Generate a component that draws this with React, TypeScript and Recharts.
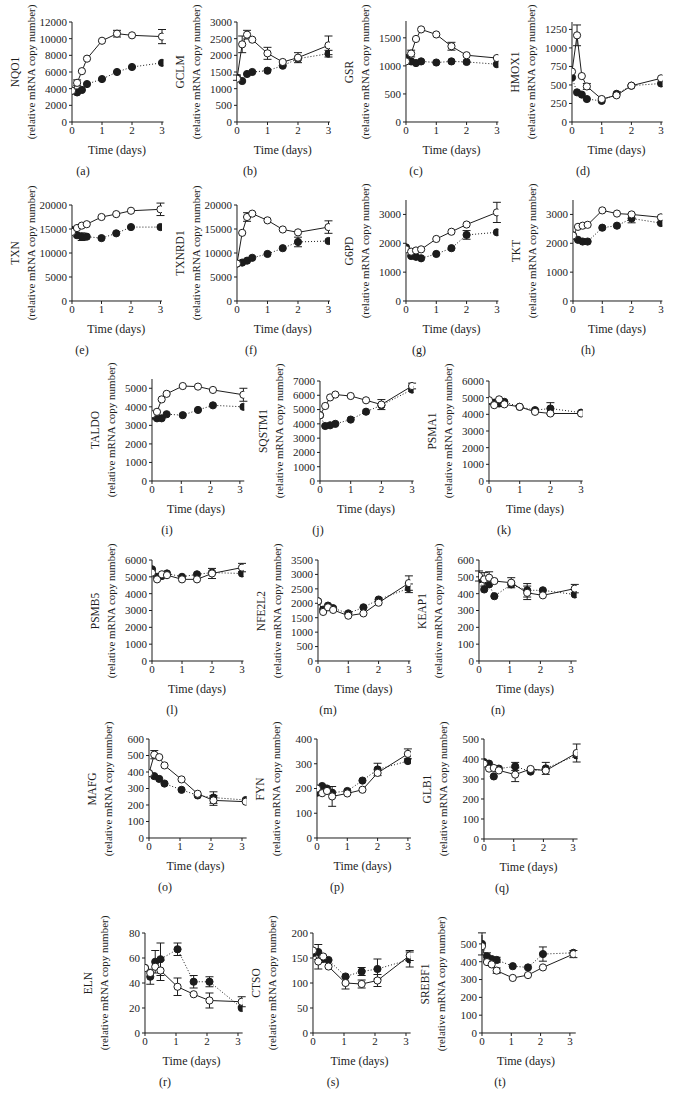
import React from "react";
import { LineChart, Line, XAxis, YAxis, ErrorBar } from "recharts";

// ── Sampling times (days) ───────────────────────────────────────────────────
const TIME = [0, 0.17, 0.33, 0.5, 1, 1.5, 2, 3];
const TIME_LATE = [0, 0.17, 0.33, 0.5, 1.05, 1.57, 2.08, 3.12];
const X_TICKS = [0, 1, 2, 3];

// ── Values: open = solid line, filled = dotted line ────
const NQO1_OPEN = [3750, 4700, 6100, 7600, 9750, 10600, 10400, 10250];
const NQO1_FILLED = [3750, 3550, 3850, 4550, 5150, 6000, 6600, 7100];
const NQO1_OPEN_ERR = [0, 350, 0, 0, 0, 400, 0, 850];
const NQO1_FILLED_ERR = [0, 0, 0, 0, 0, 0, 0, 0];

const GCLM_OPEN = [1300, 2330, 2620, 2470, 2060, 1800, 1930, 2300];
const GCLM_FILLED = [1330, 1230, 1440, 1500, 1540, 1690, 1900, 2050];
const GCLM_OPEN_ERR = [0, 250, 130, 0, 180, 0, 150, 280];
const GCLM_FILLED_ERR = [80, 0, 0, 0, 0, 0, 0, 100];

const GSR_OPEN = [1080, 1220, 1480, 1650, 1560, 1350, 1190, 1140];
const GSR_FILLED = [1140, 1080, 1050, 1080, 1060, 1080, 1070, 1030];
const GSR_OPEN_ERR = [0, 60, 0, 0, 0, 70, 0, 0];
const GSR_FILLED_ERR = [0, 0, 0, 0, 0, 0, 0, 0];

const HMOX1_OPEN = [680, 1170, 620, 480, 310, 360, 490, 590];
const HMOX1_FILLED = [600, 400, 370, 310, 285, 380, 490, 520];
const HMOX1_OPEN_ERR = [0, 140, 0, 40, 0, 0, 0, 0];
const HMOX1_FILLED_ERR = [0, 0, 0, 0, 0, 0, 0, 0];

const TXN_OPEN = [14400, 15200, 15700, 16000, 17500, 18100, 18800, 19100];
const TXN_FILLED = [14800, 13700, 13400, 13400, 13100, 14100, 15400, 15400];
const TXN_OPEN_ERR = [0, 0, 0, 0, 0, 0, 0, 1300];
const TXN_FILLED_ERR = [0, 0, 800, 0, 0, 0, 0, 0];

const TXNRD1_OPEN = [7800, 14200, 17500, 18200, 16800, 14900, 14300, 15400];
const TXNRD1_FILLED = [7800, 8000, 8400, 9000, 9800, 11000, 12300, 12500];
const TXNRD1_OPEN_ERR = [0, 0, 900, 0, 0, 0, 0, 1300];
const TXNRD1_FILLED_ERR = [0, 0, 0, 0, 0, 0, 1000, 0];

const G6PD_OPEN = [1790, 1710, 1750, 1790, 2150, 2400, 2650, 3070];
const G6PD_FILLED = [1860, 1560, 1530, 1480, 1630, 1830, 2290, 2380];
const G6PD_OPEN_ERR = [0, 0, 0, 0, 0, 0, 0, 350];
const G6PD_FILLED_ERR = [0, 0, 0, 0, 0, 0, 150, 0];

const TKT_OPEN = [2270, 2570, 2610, 2640, 3140, 3030, 3000, 2900];
const TKT_FILLED = [2270, 2120, 2060, 2060, 2540, 2610, 2860, 2700];
const TKT_OPEN_ERR = [0, 0, 0, 0, 0, 0, 0, 0];
const TKT_FILLED_ERR = [0, 0, 0, 0, 0, 0, 150, 0];

const TALDO_OPEN = [3600, 3730, 4400, 4700, 5120, 5090, 4910, 4650];
const TALDO_FILLED = [3520, 3380, 3380, 3600, 3550, 3830, 4080, 4000];
const TALDO_OPEN_ERR = [0, 0, 0, 0, 0, 0, 0, 350];
const TALDO_FILLED_ERR = [0, 0, 0, 0, 0, 0, 0, 0];

const SQSTM1_OPEN = [4600, 5250, 5850, 6050, 5950, 5650, 5350, 6650];
const SQSTM1_FILLED = [4600, 3850, 3900, 4000, 4300, 4850, 5300, 6400];
const SQSTM1_OPEN_ERR = [0, 0, 0, 0, 0, 0, 350, 200];
const SQSTM1_FILLED_ERR = [0, 0, 0, 0, 0, 0, 0, 0];

const PSMA1_OPEN = [4850, 4550, 4900, 4600, 4450, 4150, 4050, 4050];
const PSMA1_FILLED = [4800, 4700, 4650, 4750, 4450, 4250, 4350, 4100];
const PSMA1_OPEN_ERR = [0, 0, 0, 0, 0, 0, 0, 0];
const PSMA1_FILLED_ERR = [0, 0, 0, 0, 0, 0, 350, 0];

const PSMB5_OPEN = [5250, 4850, 5150, 5100, 4850, 4850, 5200, 5550];
const PSMB5_FILLED = [5450, 5000, 5050, 5200, 5000, 5150, 5250, 5200];
const PSMB5_OPEN_ERR = [0, 0, 0, 0, 0, 0, 300, 250];
const PSMB5_FILLED_ERR = [0, 0, 0, 0, 0, 0, 0, 0];

const NFE2L2_OPEN = [2070, 1700, 1860, 1770, 1570, 1650, 2020, 2700];
const NFE2L2_FILLED = [2070, 1780, 1920, 1830, 1650, 1860, 2130, 2520];
const NFE2L2_OPEN_ERR = [0, 0, 0, 0, 0, 0, 0, 250];
const NFE2L2_FILLED_ERR = [0, 0, 0, 0, 0, 0, 0, 150];

const KEAP1_OPEN = [505, 485, 495, 475, 465, 405, 390, 430];
const KEAP1_FILLED = [485, 425, 455, 385, 455, 420, 420, 395];
const KEAP1_OPEN_ERR = [30, 40, 35, 0, 30, 40, 0, 25];
const KEAP1_FILLED_ERR = [0, 0, 0, 0, 0, 40, 0, 0];

const MAFG_OPEN = [393, 505, 490, 440, 355, 268, 228, 220];
const MAFG_FILLED = [393, 375, 358, 330, 292, 258, 245, 230];
const MAFG_OPEN_ERR = [0, 25, 0, 0, 0, 0, 30, 0];
const MAFG_FILLED_ERR = [0, 0, 0, 0, 0, 0, 35, 0];

const FYN_OPEN = [200, 181, 190, 168, 180, 195, 263, 340];
const FYN_FILLED = [183, 210, 200, 183, 190, 232, 277, 311];
const FYN_OPEN_ERR = [0, 0, 0, 40, 0, 0, 0, 20];
const FYN_FILLED_ERR = [0, 0, 0, 0, 0, 0, 25, 0];

const GLB1_OPEN = [377, 352, 355, 343, 322, 350, 342, 430];
const GLB1_FILLED = [385, 377, 313, 352, 363, 337, 353, 418];
const GLB1_OPEN_ERR = [0, 0, 0, 0, 35, 0, 0, 45];
const GLB1_FILLED_ERR = [0, 0, 0, 0, 20, 0, 30, 0];

const ELN_OPEN = [52, 48, 53, 50, 37, 31, 26, 25];
const ELN_FILLED = [52, 45, 57, 59, 67, 41, 41, 20];
const ELN_OPEN_ERR = [0, 0, 0, 8, 7, 0, 6, 4];
const ELN_FILLED_ERR = [0, 6, 9, 13, 5, 5, 4, 0];

const CTSO_OPEN = [165, 143, 153, 133, 100, 98, 105, 155];
const CTSO_FILLED = [160, 162, 148, 146, 113, 123, 128, 147];
const CTSO_OPEN_ERR = [0, 15, 0, 0, 12, 8, 12, 10];
const CTSO_FILLED_ERR = [0, 15, 0, 0, 0, 8, 20, 15];

const SREBF1_OPEN = [487, 398, 385, 350, 309, 325, 368, 443];
const SREBF1_FILLED = [500, 430, 415, 410, 375, 368, 443, 450];
const SREBF1_OPEN_ERR = [0, 0, 0, 15, 0, 0, 0, 20];
const SREBF1_FILLED_ERR = [62, 20, 0, 15, 0, 0, 40, 0];

// ── Y tick sets ─────────────────────────────────────────────────────────────
const TICKS_12000 = [0, 2000, 4000, 6000, 8000, 10000, 12000];
const TICKS_3000_500 = [0, 500, 1000, 1500, 2000, 2500, 3000];
const TICKS_1500 = [0, 500, 1000, 1500];
const TICKS_1250 = [0, 250, 500, 750, 1000, 1250];
const TICKS_20000 = [0, 5000, 10000, 15000, 20000];
const TICKS_3000 = [0, 1000, 2000, 3000];
const TICKS_5000 = [0, 1000, 2000, 3000, 4000, 5000];
const TICKS_7000 = [0, 1000, 2000, 3000, 4000, 5000, 6000, 7000];
const TICKS_6000 = [0, 1000, 2000, 3000, 4000, 5000, 6000];
const TICKS_3500 = [0, 500, 1000, 1500, 2000, 2500, 3000, 3500];
const TICKS_600 = [0, 100, 200, 300, 400, 500, 600];
const TICKS_400 = [0, 100, 200, 300, 400];
const TICKS_500 = [0, 100, 200, 300, 400, 500];
const TICKS_80 = [0, 20, 40, 60, 80];
const TICKS_200 = [0, 50, 100, 150, 200];

// ── Panel table (layout in page pixels) ─────────────────────────────────────
const PANELS = [
  { id: "a", gene: "NQO1", time: TIME, open: NQO1_OPEN, filled: NQO1_FILLED, oErr: NQO1_OPEN_ERR, fErr: NQO1_FILLED_ERR, yMax: 12000, yTicks: TICKS_12000, ax: 72, top: 22, bottom: 122, unit: 30, xMax: 3.05, ldx: 11 },
  { id: "b", gene: "GCLM", time: TIME, open: GCLM_OPEN, filled: GCLM_FILLED, oErr: GCLM_OPEN_ERR, fErr: GCLM_FILLED_ERR, yMax: 3000, yTicks: TICKS_3000_500, ax: 237, top: 22, bottom: 122, unit: 30.5, xMax: 3.05, ldx: 13 },
  { id: "c", gene: "GSR", time: TIME, open: GSR_OPEN, filled: GSR_FILLED, oErr: GSR_OPEN_ERR, fErr: GSR_FILLED_ERR, yMax: 1800, yTicks: TICKS_1500, ax: 406, top: 21, bottom: 122, unit: 30.3, xMax: 3.05, ldx: 10 },
  { id: "d", gene: "HMOX1", time: TIME, open: HMOX1_OPEN, filled: HMOX1_FILLED, oErr: HMOX1_OPEN_ERR, fErr: HMOX1_FILLED_ERR, yMax: 1350, yTicks: TICKS_1250, ax: 572, top: 22, bottom: 122, unit: 29.7, xMax: 3.05, ldx: 11 },

  { id: "e", gene: "TXN", time: TIME, open: TXN_OPEN, filled: TXN_FILLED, oErr: TXN_OPEN_ERR, fErr: TXN_FILLED_ERR, yMax: 20000, yTicks: TICKS_20000, ax: 72, top: 205, bottom: 301, unit: 29.5, xMax: 3.05, ldx: 10 },
  { id: "f", gene: "TXNRD1", time: TIME, open: TXNRD1_OPEN, filled: TXNRD1_FILLED, oErr: TXNRD1_OPEN_ERR, fErr: TXNRD1_FILLED_ERR, yMax: 20000, yTicks: TICKS_20000, ax: 237, top: 205, bottom: 301, unit: 30.5, xMax: 3.05, ldx: 14 },
  { id: "g", gene: "G6PD", time: TIME, open: G6PD_OPEN, filled: G6PD_FILLED, oErr: G6PD_OPEN_ERR, fErr: G6PD_FILLED_ERR, yMax: 3500, yTicks: TICKS_3000, ax: 406, top: 200, bottom: 301, unit: 30.3, xMax: 3.05, ldx: 13 },
  { id: "h", gene: "TKT", time: TIME, open: TKT_OPEN, filled: TKT_FILLED, oErr: TKT_OPEN_ERR, fErr: TKT_FILLED_ERR, yMax: 3500, yTicks: TICKS_3000, ax: 573, top: 200, bottom: 301, unit: 29.3, xMax: 3.05, ldx: 15 },

  { id: "i", gene: "TALDO", time: TIME_LATE, open: TALDO_OPEN, filled: TALDO_FILLED, oErr: TALDO_OPEN_ERR, fErr: TALDO_FILLED_ERR, yMax: 5500, yTicks: TICKS_5000, ax: 152, top: 379, bottom: 481, unit: 29.3, xMax: 3.15, ldx: 15 },
  { id: "j", gene: "SQSTM1", time: TIME, open: SQSTM1_OPEN, filled: SQSTM1_FILLED, oErr: SQSTM1_OPEN_ERR, fErr: SQSTM1_FILLED_ERR, yMax: 7000, yTicks: TICKS_7000, ax: 320, top: 381, bottom: 481, unit: 30.7, xMax: 3.05, ldx: -2 },
  { id: "k", gene: "PSMA1", time: TIME, open: PSMA1_OPEN, filled: PSMA1_FILLED, oErr: PSMA1_OPEN_ERR, fErr: PSMA1_FILLED_ERR, yMax: 6000, yTicks: TICKS_6000, ax: 489, top: 381, bottom: 481, unit: 30.7, xMax: 3.05, ldx: 15 },

  { id: "l", gene: "PSMB5", time: TIME, open: PSMB5_OPEN, filled: PSMB5_FILLED, oErr: PSMB5_OPEN_ERR, fErr: PSMB5_FILLED_ERR, yMax: 6000, yTicks: TICKS_6000, ax: 152, top: 560, bottom: 661, unit: 30, xMax: 3.05, ldx: 20 },
  { id: "m", gene: "NFE2L2", time: TIME, open: NFE2L2_OPEN, filled: NFE2L2_FILLED, oErr: NFE2L2_OPEN_ERR, fErr: NFE2L2_FILLED_ERR, yMax: 3500, yTicks: TICKS_3500, ax: 318, top: 560, bottom: 661, unit: 30.3, xMax: 3.05, ldx: 10 },
  { id: "n", gene: "KEAP1", time: TIME_LATE, open: KEAP1_OPEN, filled: KEAP1_FILLED, oErr: KEAP1_OPEN_ERR, fErr: KEAP1_FILLED_ERR, yMax: 600, yTicks: TICKS_600, ax: 479, top: 560, bottom: 661, unit: 30.7, xMax: 3.18, ldx: 19 },

  { id: "o", gene: "MAFG", time: TIME_LATE, open: MAFG_OPEN, filled: MAFG_FILLED, oErr: MAFG_OPEN_ERR, fErr: MAFG_FILLED_ERR, yMax: 600, yTicks: TICKS_600, ax: 149, top: 739, bottom: 838, unit: 31, xMax: 3.15, ldx: 16 },
  { id: "p", gene: "FYN", time: TIME, open: FYN_OPEN, filled: FYN_FILLED, oErr: FYN_OPEN_ERR, fErr: FYN_FILLED_ERR, yMax: 400, yTicks: TICKS_400, ax: 317, top: 739, bottom: 838, unit: 30.3, xMax: 3.1, ldx: 20 },
  { id: "q", gene: "GLB1", time: TIME_LATE, open: GLB1_OPEN, filled: GLB1_FILLED, oErr: GLB1_OPEN_ERR, fErr: GLB1_FILLED_ERR, yMax: 500, yTicks: TICKS_500, ax: 484, top: 739, bottom: 839, unit: 29.7, xMax: 3.15, ldx: 18 },

  { id: "r", gene: "ELN", time: TIME_LATE, open: ELN_OPEN, filled: ELN_FILLED, oErr: ELN_OPEN_ERR, fErr: ELN_FILLED_ERR, yMax: 80, yTicks: TICKS_80, ax: 145, top: 933, bottom: 1033, unit: 31, xMax: 3.15, ldx: 20 },
  { id: "s", gene: "CTSO", time: TIME_LATE, open: CTSO_OPEN, filled: CTSO_FILLED, oErr: CTSO_OPEN_ERR, fErr: CTSO_FILLED_ERR, yMax: 200, yTicks: TICKS_200, ax: 313, top: 933, bottom: 1033, unit: 31, xMax: 3.15, ldx: 20 },
  { id: "t", gene: "SREBF1", time: TIME_LATE, open: SREBF1_OPEN, filled: SREBF1_FILLED, oErr: SREBF1_OPEN_ERR, fErr: SREBF1_FILLED_ERR, yMax: 550, yTicks: TICKS_500, ax: 482, top: 935, bottom: 1033, unit: 29.3, xMax: 3.2, ldx: 18 },
];

// ── Styling ─────────────────────────────────────────────────────────────────
const FONT = "'Liberation Serif', 'Times New Roman', serif";
const INK = "#1c1c1c";
const TICK_STYLE = { fill: INK, fontSize: 11, fontFamily: FONT };
const M_LEFT = 20;
const AX_W = 50;
const M_TOP = 20;
const M_RIGHT = 14;
const X_H = 20;
const M_BOTTOM = 10;

const TEXT_BASE: React.CSSProperties = {
  position: "absolute",
  fontFamily: FONT,
  color: INK,
  whiteSpace: "nowrap",
  lineHeight: 1,
  fontWeight: 400,
};

type PanelDef = (typeof PANELS)[number];

// ── One small multiple ──────────────────────────────────────────────────────
const Panel: React.FC<{ p: PanelDef }> = ({ p }) => {
  const plotH = p.bottom - p.top;
  const plotW = p.unit * p.xMax;
  const w = M_LEFT + AX_W + plotW + M_RIGHT;
  const h = M_TOP + plotH + X_H + M_BOTTOM;
  const axX = M_LEFT + AX_W;
  const cy = (p.top + p.bottom) / 2;
  const data = p.time.map((t, i) => ({
    t, o: p.open[i], f: p.filled[i], oe: p.oErr[i], fe: p.fErr[i],
  }));

  return (
    <>
      <div style={{ position: "absolute", left: p.ax - axX, top: p.top - M_TOP }}>
        <LineChart width={w} height={h} data={data} margin={{ top: M_TOP, right: M_RIGHT, left: M_LEFT, bottom: M_BOTTOM }}>
          <XAxis
            type="number"
            dataKey="t"
            domain={[0, p.xMax]}
            ticks={X_TICKS}
            interval={0}
            height={X_H}
            tickSize={3}
            tickMargin={1}
            tick={TICK_STYLE}
            axisLine={{ stroke: INK }}
            tickLine={{ stroke: INK }}
            allowDataOverflow
          />
          <YAxis
            type="number"
            domain={[0, p.yMax]}
            ticks={p.yTicks}
            interval={0}
            width={AX_W}
            tickSize={3}
            tickMargin={2}
            tick={TICK_STYLE}
            axisLine={{ stroke: INK }}
            tickLine={{ stroke: INK }}
            allowDataOverflow
          />
          {/* control: filled dots on a dotted line, drawn first */}
          <Line
            type="linear"
            dataKey="f"
            stroke={INK}
            strokeWidth={1}
            strokeDasharray="1 2"
            dot={{ r: 3.6, fill: INK, stroke: INK, strokeWidth: 1, strokeDasharray: "none" }}
            activeDot={false}
            isAnimationActive={false}
          >
            <ErrorBar dataKey="fe" direction="y" width={4} stroke={INK} strokeWidth={1} />
          </Line>
          {/* treated: open dots on a solid line */}
          <Line
            type="linear"
            dataKey="o"
            stroke={INK}
            strokeWidth={1}
            dot={{ r: 3.6, fill: "#ffffff", stroke: INK, strokeWidth: 1 }}
            activeDot={false}
            isAnimationActive={false}
          >
            <ErrorBar dataKey="oe" direction="y" width={4} stroke={INK} strokeWidth={1} />
          </Line>
        </LineChart>
      </div>

      {/* y-axis title, two rotated lines */}
      <div style={{ ...TEXT_BASE, fontSize: 11.5, left: p.ax - 56, top: cy, transform: "translate(-50%, -50%) rotate(-90deg)" }}>
        {p.gene}
      </div>
      <div style={{ ...TEXT_BASE, fontSize: 11, left: p.ax - 41, top: cy, transform: "translate(-50%, -50%) rotate(-90deg)" }}>
        (relative mRNA copy number)
      </div>

      {/* x-axis title and panel letter */}
      <div style={{ ...TEXT_BASE, fontSize: 12, left: p.ax + p.unit * 1.5, top: p.bottom + 28, transform: "translate(-50%, -50%)" }}>
        Time (days)
      </div>
      <div style={{ ...TEXT_BASE, fontSize: 12, left: p.ax + p.ldx, top: p.bottom + 49, transform: "translate(-50%, -50%)" }}>
        ({p.id})
      </div>
    </>
  );
};

export default function App() {
  return (
    <div style={{ position: "absolute", left: 0, top: 0, width: 673, height: 1104, background: "#ffffff", overflow: "hidden" }}>
      {PANELS.map((p) => (
        <Panel key={p.id} p={p} />
      ))}
    </div>
  );
}
